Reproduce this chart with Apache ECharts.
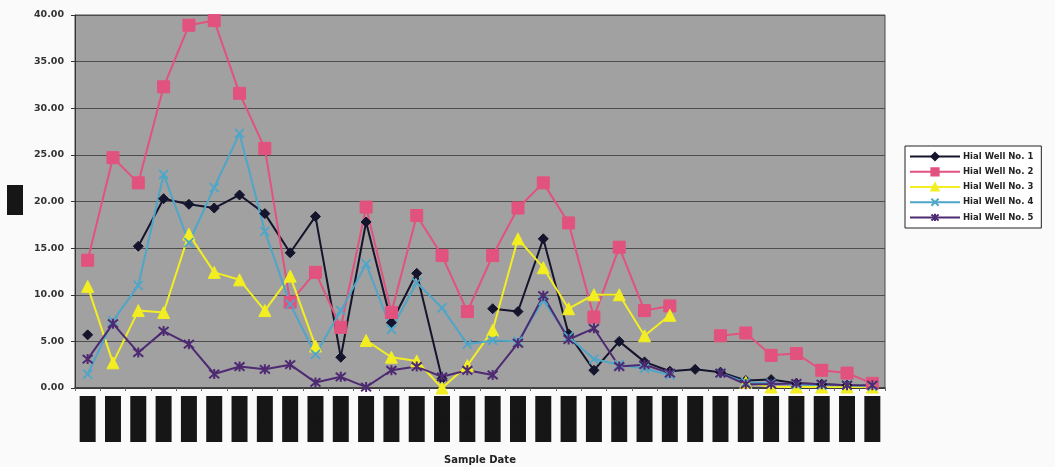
<!DOCTYPE html>
<html>
<head>
<meta charset="utf-8">
<script src="https://cdn.jsdelivr.net/npm/echarts@6/dist/echarts.min.js"></script>
<style>
  html, body { margin: 0; padding: 0; background: #fafafa; }
  #chart { width: 1055px; height: 467px; }
</style>
</head>
<body>
<div id="chart"></div>
<script>
// Sample events along the x axis (date labels are masked in the printout)
const sampleIds = ['1','2','3','4','5','6','7','8','9','10','11','12','13','14','15','16',
                   '17','18','19','20','21','22','23','24','25','26','27','28','29','30','31','32'];

const yTicks = { min: 0, max: 40, step: 5 };

const seriesNames = ['Hial Well No. 1', 'Hial Well No. 2', 'Hial Well No. 3', 'Hial Well No. 4', 'Hial Well No. 5'];

const well1 = [5.7, null, 15.2, 20.3, 19.7, 19.3, 20.7, 18.7, 14.5, 18.4, 3.3, 17.8, 7.0, 12.3, 1.0, null,
               8.5, 8.2, 16.0, 5.8, 1.9, 5.0, 2.8, 1.8, 2.0, 1.7, 0.8, 0.9, 0.5, 0.4, 0.3, 0.1];
const well2 = [13.7, 24.7, 22.0, 32.3, 38.9, 39.4, 31.6, 25.7, 9.2, 12.4, 6.5, 19.4, 8.1, 18.5, 14.2, 8.2,
               14.2, 19.3, 22.0, 17.7, 7.6, 15.1, 8.3, 8.8, null, 5.6, 5.9, 3.5, 3.7, 1.9, 1.6, 0.5];
const well3 = [10.9, 2.7, 8.3, 8.1, 16.5, 12.4, 11.6, 8.3, 12.0, 4.5, null, 5.1, 3.3, 2.9, 0.0, 2.4,
               6.2, 16.0, 12.9, 8.5, 10.0, 10.0, 5.6, 7.8, null, null, 0.6, 0.1, 0.1, 0.1, 0.1, 0.1];
const well4 = [1.5, 7.2, 11.0, 22.9, 15.6, 21.5, 27.3, 16.8, 9.0, 3.6, 8.3, 13.3, 6.3, 11.3, 8.6, 4.7,
               5.1, 5.0, 9.4, 5.5, 3.1, 2.5, 2.1, 1.4, null, 1.6, 0.6, 0.5, 0.4, 0.3, 0.3, 0.2];
const well5 = [3.1, 6.9, 3.8, 6.1, 4.7, 1.5, 2.3, 2.0, 2.5, 0.6, 1.2, 0.1, 1.9, 2.3, 1.2, 1.9,
               1.4, 4.8, 9.9, 5.2, 6.4, 2.3, 2.5, 1.6, null, 1.6, 0.4, 0.4, 0.5, 0.4, 0.3, 0.3];

const chart = echarts.init(document.getElementById('chart'), null, { renderer: 'canvas' });

const xMark = 'path://M0,0L10,10M0,10L10,0';
const starMark = 'path://M0,0L10,10M0,10L10,0M5,-1L5,11';

function well(name, data, color, symbol, size, extra) {
  return Object.assign({
    name: name,
    type: 'line',
    data: data,
    symbol: symbol,
    symbolSize: size,
    connectNulls: false,
    lineStyle: { color: color, width: 2 },
    itemStyle: { color: color, borderColor: color, borderWidth: 1 },
    emphasis: { disabled: true },
    z: 3
  }, extra || {});
}

const option = {
  animation: false,
  backgroundColor: '#fafafa',
  textStyle: { fontFamily: 'DejaVu Sans' },
  grid: {
    left: 75, right: 170, top: 15, bottom: 79,
    outerBoundsMode: 'none',
    containLabel: false,
    show: true,
    backgroundColor: '#a1a1a1',
    borderColor: '#4a4a4a',
    borderWidth: 1
  },
  legend: {
    orient: 'vertical',
    left: 905,
    top: 146,
    padding: [6, 8, 6, 4],
    backgroundColor: '#ffffff',
    borderColor: '#222',
    borderWidth: 1,
    itemWidth: 50,
    itemHeight: 9,
    itemGap: 6,
    textStyle: { fontFamily: 'DejaVu Sans', fontSize: 8.5, fontWeight: 'bold', color: '#222', padding: [0, 0, 0, -2] },
    data: seriesNames
  },
  xAxis: {
    type: 'category',
    data: sampleIds,
    boundaryGap: true,
    name: 'Sample Date',
    nameLocation: 'middle',
    nameGap: 67,
    nameTextStyle: { fontFamily: 'DejaVu Sans', fontWeight: 'bold', fontSize: 10, color: '#222' },
    axisLine: { lineStyle: { color: '#333', width: 1.5 } },
    axisTick: { show: true, length: 3, lineStyle: { color: '#666' } },
    axisLabel: {
      interval: 0,
      margin: 8,
      formatter: v => '{box|' + v + '}',
      rich: {
        box: { backgroundColor: '#161616', color: '#161616', width: 16, height: 46, align: 'center', fontSize: 8 }
      }
    },
    splitLine: { show: false }
  },
  yAxis: {
    type: 'value',
    min: yTicks.min,
    max: yTicks.max,
    interval: yTicks.step,
    axisLine: { show: true, lineStyle: { color: '#333', width: 1 } },
    axisTick: { show: true, length: 4, lineStyle: { color: '#333' } },
    axisLabel: {
      margin: 11,
      formatter: v => v.toFixed(2),
      fontFamily: 'DejaVu Sans',
      fontWeight: 'bold',
      fontSize: 9.5,
      color: '#333'
    },
    splitLine: { lineStyle: { color: '#4d4d4d', width: 1.2 } }
  },
  graphic: [
    // masked y-axis title
    { type: 'rect', left: 7, top: 185, shape: { width: 16, height: 30 }, style: { fill: '#161616' } }
  ],
  series: [
    well(seriesNames[0], well1, '#14142c', 'diamond', 10),
    well(seriesNames[1], well2, '#e2527f', 'rect', 12),
    well(seriesNames[2], well3, '#f2ee22', 'triangle', 12),
    well(seriesNames[3], well4, '#4ea6c8', xMark, 9, { itemStyle: { color: '#4ea6c8', borderColor: '#4ea6c8', borderWidth: 1.8 } }),
    well(seriesNames[4], well5, '#4e2a72', starMark, 10, { itemStyle: { color: '#4e2a72', borderColor: '#4e2a72', borderWidth: 2 } })
  ]
};

chart.setOption(option);
</script>
</body>
</html>
